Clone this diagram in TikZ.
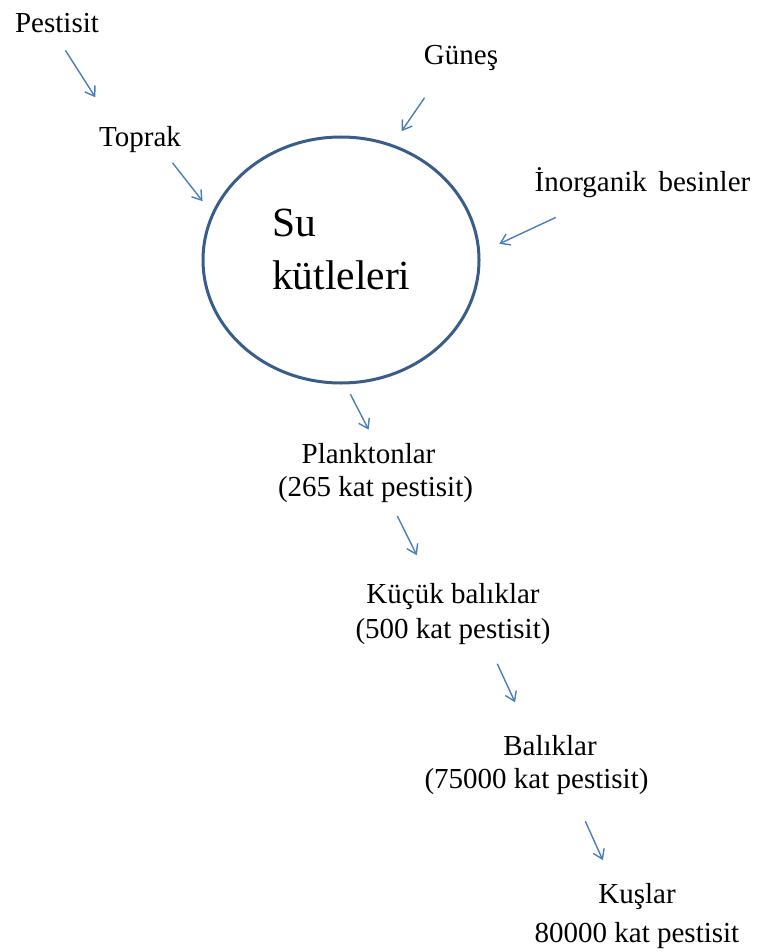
\documentclass[tikz,border=0pt]{standalone}
\usepackage{fontspec}
\setmainfont{Liberation Serif}
\usetikzlibrary{shapes.geometric,arrows.meta}
\definecolor{ringblue}{RGB}{56,93,138}
\definecolor{arrowblue}{RGB}{74,126,187}

\begin{document}
\begin{tikzpicture}[x=1pt, y=-1pt,
  lbl/.style={
    inner sep=0pt, anchor=base, text height=20pt, text depth=7pt,
    font=\fontsize{29}{35}\selectfont
  },
  level/.style={
    inner sep=0pt, anchor=north, align=center,
    font=\fontsize{29}{35}\selectfont
  },
  water/.style={
    draw=ringblue, line width=3pt, ellipse, inner sep=0pt,
    minimum width=276pt, minimum height=246pt
  },
  wlabel/.style={
    inner sep=0pt, anchor=north west, align=left,
    font=\fontsize{41.5}{53}\selectfont
  },
  arr/.style={draw=arrowblue, line width=1.4pt,
    -{Straight Barb[length=9pt,width=12pt]}},
]
\useasboundingbox (0,0) rectangle (763,952);
\node[water]  (water) at (341,260)   {};
\node[wlabel] (wtext) at (272,209)   {Su\\kütleleri};
\node[lbl]    (pest)  at (57,33)     {Pestisit};
\node[lbl]    (soil)  at (140,147)   {Toprak};
\node[lbl]    (sun)   at (461,65)    {Güneş};
\node[lbl]    (inorg) at (642.5,192) {İnorganik\hspace{0.4em}besinler};
\node[level]  (plank) at (375.5,443) {Planktonlar\hspace*{14pt}\\[-2pt](265 kat pestisit)};
\node[level]  (sfish) at (453,583)   {Küçük balıklar\\(500 kat pestisit)};
\node[level]  (fish)  at (536.5,735) {\hspace*{27pt}Balıklar\\[-2pt](75000 kat pestisit)};
\node[level]  (bird)  at (637,883)   {Kuşlar\\[4pt]80000 kat pestisit};
\draw[arr, shorten <=12pt, shorten >=35pt] (pest.-82)   -- (soil.152);
\draw[arr, shorten <=11pt, shorten >=15pt] (soil.-28)   -- (water.160);
\draw[arr, shorten <=31pt, shorten >=16pt] (sun.-144)   -- (water.66);
\draw[arr, shorten <=43pt, shorten >=21pt] (inorg.-164) -- (water.3);
\draw[arr, shorten <=11pt, shorten >=15pt] (water.-88)  -- (plank.90);
\draw[arr, shorten <=15pt, shorten >=31pt] (plank.-63)  -- (sfish.126);
\draw[arr, shorten <=21pt, shorten >=36pt] (sfish.-41)  -- (fish.102);
\draw[arr, shorten <=29pt, shorten >=25pt] (fish.-39)   -- (bird.126);
\end{tikzpicture}
\end{document}
